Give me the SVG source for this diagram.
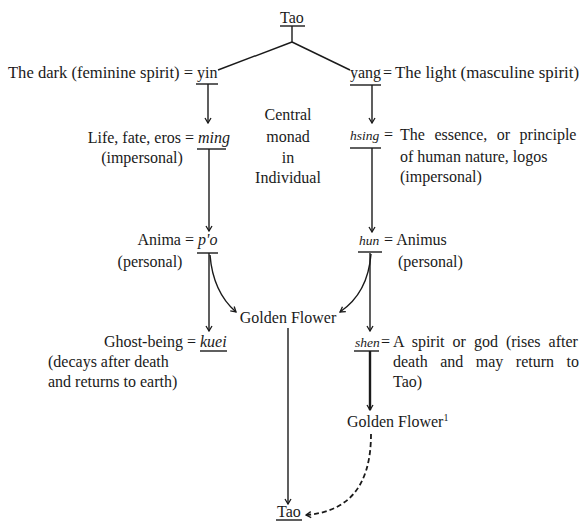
<svg xmlns="http://www.w3.org/2000/svg" width="585" height="522" viewBox="0 0 585 522">
<defs>
<style>
text{font-family:"Liberation Serif","DejaVu Serif",serif;font-size:16px;fill:#1a1a1a}
.it{font-style:italic}
.sm{font-size:13.5px}
.ln{stroke:#1a1a1a;stroke-width:1.4;fill:none}
.ul{stroke:#1a1a1a;stroke-width:1.4}
.dash{stroke-dasharray:5 3;stroke-width:1.8}
.thick{stroke-width:2.4}
</style>
<marker id="arr" viewBox="-6 -4 7 8" markerWidth="7" markerHeight="8" refX="0" refY="0" orient="auto" markerUnits="userSpaceOnUse">
<path d="M-5,-3 L0,0 L-5,3" fill="none" stroke="#1a1a1a" stroke-width="1.3"/>
</marker>
</defs>
<rect width="585" height="522" fill="#ffffff"/>

<g id="connectors">
<line class="ln" x1="292" y1="26" x2="292" y2="42"/>
<line class="ln" x1="292" y1="42" x2="218" y2="70"/>
<line class="ln" x1="292" y1="42" x2="350" y2="70"/>
<line class="ln" x1="208" y1="84" x2="208" y2="123" marker-end="url(#arr)"/>
<line class="ln" x1="372" y1="85" x2="372" y2="123" marker-end="url(#arr)"/>
<line class="ln" x1="209" y1="149" x2="209" y2="231" marker-end="url(#arr)"/>
<line class="ln" x1="372" y1="148" x2="372" y2="232" marker-end="url(#arr)"/>
<line class="ln" x1="209" y1="253" x2="209" y2="331" marker-end="url(#arr)"/>
<path class="ln" d="M210,255 Q213,292 236,312" marker-end="url(#arr)"/>
<path class="ln" d="M371,254 Q368,293 340,312" marker-end="url(#arr)"/>
<line class="ln" x1="370" y1="253" x2="370" y2="331" marker-end="url(#arr)"/>
<line class="ln thick" x1="370" y1="351" x2="370" y2="410" marker-end="url(#arr)"/>
<line class="ln" x1="288" y1="328" x2="288" y2="504" marker-end="url(#arr)"/>
<path class="ln dash" d="M371,434 C371,490 345,512 306,515" marker-end="url(#arr)"/>
</g>

<g id="tao-top">
<text x="292" y="23" text-anchor="middle">Tao</text>
<line class="ul" x1="280" y1="26" x2="305" y2="26"/>
</g>

<g id="yin">
<text x="193" y="78" text-anchor="end" textLength="185" lengthAdjust="spacingAndGlyphs">The dark (feminine spirit) =</text>
<text x="197" y="78">yin</text>
<line class="ul" x1="196" y1="84" x2="218" y2="84"/>
</g>

<g id="yang">
<text x="350" y="78">yang</text>
<text x="383" y="78">=</text>
<text x="395" y="78" textLength="184" lengthAdjust="spacingAndGlyphs">The light (masculine spirit)</text>
<line class="ul" x1="350" y1="85" x2="381" y2="85"/>
</g>

<g id="monad">
<text x="288" y="120" text-anchor="middle">Central</text>
<text x="288" y="142" text-anchor="middle">monad</text>
<text x="288" y="163" text-anchor="middle">in</text>
<text x="288" y="183" text-anchor="middle">Individual</text>
</g>

<g id="ming">
<text x="194" y="143" text-anchor="end">Life, fate, eros =</text>
<text x="198" y="143" class="it">ming</text>
<text x="142" y="163" text-anchor="middle">(impersonal)</text>
<line class="ul" x1="197" y1="149" x2="226" y2="149"/>
</g>

<g id="hsing">
<text x="350" y="140" class="it sm">hsing</text>
<text x="384" y="140">=</text>
<text x="400" y="140" style="word-spacing:5.5px">The essence, or principle</text>
<text x="400" y="162">of human nature, logos</text>
<text x="400" y="182">(impersonal)</text>
<line class="ul" x1="350" y1="148" x2="381" y2="148"/>
</g>

<g id="po">
<text x="194" y="245" text-anchor="end">Anima =</text>
<text x="198" y="245" class="it">p'o</text>
<text x="150" y="267" text-anchor="middle">(personal)</text>
<line class="ul" x1="197" y1="253" x2="218" y2="253"/>
</g>

<g id="hun">
<text x="359" y="245" class="it sm">hun</text>
<text x="384" y="245">= Animus</text>
<text x="398" y="267">(personal)</text>
<line class="ul" x1="358" y1="252" x2="382" y2="252"/>
</g>

<g id="golden-flower">
<text x="288" y="323" text-anchor="middle">Golden Flower</text>
</g>

<g id="kuei">
<text x="196" y="347" text-anchor="end">Ghost-being =</text>
<text x="200" y="347" class="it">kuei</text>
<text x="48" y="367">(decays after death</text>
<text x="48" y="387">and returns to earth)</text>
<line class="ul" x1="200" y1="351" x2="227" y2="351"/>
</g>

<g id="shen">
<text x="355" y="347" class="it sm">shen</text>
<text x="381" y="347">=</text>
<text x="393" y="347" style="word-spacing:4px">A spirit or god (rises after</text>
<text x="393" y="367" style="word-spacing:8.5px">death and may return to</text>
<text x="393" y="387">Tao)</text>
<line class="ul" x1="354" y1="351" x2="379" y2="351"/>
</g>

<g id="golden-flower-2">
<text x="347" y="427">Golden Flower<tspan font-size="10" dy="-6">1</tspan></text>
</g>

<g id="tao-bottom">
<text x="289" y="517" text-anchor="middle">Tao</text>
<line class="ul" x1="276" y1="520" x2="302" y2="520"/>
</g>
</svg>
